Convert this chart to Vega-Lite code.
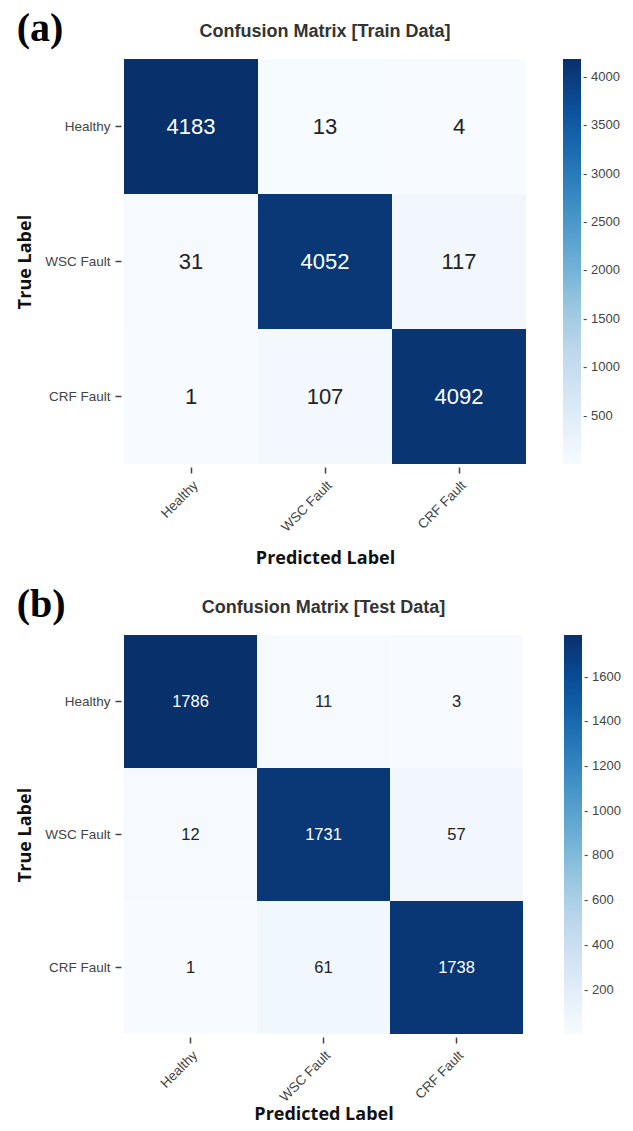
{
  "$schema": "https://vega.github.io/schema/vega-lite/v6.json",
  "background": "white",
  "padding": {"left": 16, "top": 9, "right": 5, "bottom": 5},
  "spacing": 17,
  "resolve": {"scale": {"color": "independent"}, "legend": {"color": "independent"}},
  "datasets": {
    "train": [
      {"actual": "Healthy", "predicted": "Healthy", "count": 4183},
      {"actual": "Healthy", "predicted": "WSC Fault", "count": 13},
      {"actual": "Healthy", "predicted": "CRF Fault", "count": 4},
      {"actual": "WSC Fault", "predicted": "Healthy", "count": 31},
      {"actual": "WSC Fault", "predicted": "WSC Fault", "count": 4052},
      {"actual": "WSC Fault", "predicted": "CRF Fault", "count": 117},
      {"actual": "CRF Fault", "predicted": "Healthy", "count": 1},
      {"actual": "CRF Fault", "predicted": "WSC Fault", "count": 107},
      {"actual": "CRF Fault", "predicted": "CRF Fault", "count": 4092}
    ],
    "test": [
      {"actual": "Healthy", "predicted": "Healthy", "count": 1786},
      {"actual": "Healthy", "predicted": "WSC Fault", "count": 11},
      {"actual": "Healthy", "predicted": "CRF Fault", "count": 3},
      {"actual": "WSC Fault", "predicted": "Healthy", "count": 12},
      {"actual": "WSC Fault", "predicted": "WSC Fault", "count": 1731},
      {"actual": "WSC Fault", "predicted": "CRF Fault", "count": 57},
      {"actual": "CRF Fault", "predicted": "Healthy", "count": 1},
      {"actual": "CRF Fault", "predicted": "WSC Fault", "count": 61},
      {"actual": "CRF Fault", "predicted": "CRF Fault", "count": 1738}
    ]
  },
  "config": {
    "view": {"stroke": null},
    "font": "Liberation Sans",
    "axis": {
      "labelFont": "Liberation Sans",
      "labelFontSize": 13.5,
      "labelColor": "#444444",
      "tickColor": "#444444",
      "tickSize": 6,
      "tickWidth": 1.5,
      "labelPadding": 5,
      "offset": 3,
      "domain": false,
      "grid": false,
      "titleFont": "Open Sans",
      "titleFontSize": 18,
      "titleFontWeight": "bold",
      "titleColor": "#111111"
    },
    "legend": {
      "labelFont": "Liberation Sans",
      "labelFontSize": 13,
      "labelColor": "#444444",
      "gradientThickness": 18,
      "gradientStrokeWidth": 0,
      "labelOverlap": false,
      "labelOffset": 5
    }
  },
  "vconcat": [
    {
      "title": {"text": "(a)", "anchor": "start", "frame": "bounds", "font": "Liberation Serif", "fontSize": 40, "fontWeight": "bold", "color": "#000000", "offset": -26},
      "vconcat": [
        {
          "width": 402,
          "height": 405,
          "data": {"name": "train"},
          "title": {"text": "Confusion Matrix [Train Data]", "font": "Liberation Sans", "fontSize": 18, "fontWeight": "bold", "color": "#333333", "offset": 18},
          "encoding": {
            "x": {"field": "predicted", "type": "nominal", "sort": ["Healthy", "WSC Fault", "CRF Fault"], "title": "Predicted Label", "axis": {"labelAngle": -45, "titlePadding": 16}},
            "y": {"field": "actual", "type": "nominal", "sort": ["Healthy", "WSC Fault", "CRF Fault"], "title": "True Label", "axis": {"titlePadding": 10}}
          },
          "layer": [
            {
              "mark": "rect",
              "encoding": {
                "color": {
                  "field": "count",
                  "type": "quantitative",
                  "scale": {"domain": [1, 4183], "range": ["#f7fbff", "#deebf7", "#c6dbef", "#9ecae1", "#6baed6", "#4292c6", "#2171b5", "#08519c", "#08306b"]},
                  "legend": {"title": null, "format": "d", "values": [500, 1000, 1500, 2000, 2500, 3000, 3500, 4000], "gradientLength": 405, "offset": 37, "labelExpr": "'-   ' + datum.label"}
                }
              }
            },
            {
              "mark": {"type": "text", "fontSize": 22, "font": "Liberation Sans"},
              "encoding": {
                "text": {"field": "count", "type": "quantitative", "format": "d"},
                "color": {"condition": {"test": "datum.count > 2000", "value": "#ffffff"}, "value": "#222222"}
              }
            }
          ]
        }
      ]
    },
    {
      "title": {"text": "(b)", "anchor": "start", "frame": "bounds", "font": "Liberation Serif", "fontSize": 40, "fontWeight": "bold", "color": "#000000", "offset": -26},
      "vconcat": [
        {
          "width": 399,
          "height": 399,
          "data": {"name": "test"},
          "title": {"text": "Confusion Matrix [Test Data]", "font": "Liberation Sans", "fontSize": 18, "fontWeight": "bold", "color": "#333333", "offset": 18},
          "encoding": {
            "x": {"field": "predicted", "type": "nominal", "sort": ["Healthy", "WSC Fault", "CRF Fault"], "title": "Predicted Label", "axis": {"labelAngle": -45, "titlePadding": 2}},
            "y": {"field": "actual", "type": "nominal", "sort": ["Healthy", "WSC Fault", "CRF Fault"], "title": "True Label", "axis": {"titlePadding": 10}}
          },
          "layer": [
            {
              "mark": "rect",
              "encoding": {
                "color": {
                  "field": "count",
                  "type": "quantitative",
                  "scale": {"domain": [1, 1786], "range": ["#f7fbff", "#deebf7", "#c6dbef", "#9ecae1", "#6baed6", "#4292c6", "#2171b5", "#08519c", "#08306b"]},
                  "legend": {"title": null, "format": "d", "values": [200, 400, 600, 800, 1000, 1200, 1400, 1600], "gradientLength": 399, "offset": 41, "labelExpr": "'-   ' + datum.label"}
                }
              }
            },
            {
              "mark": {"type": "text", "fontSize": 16.5, "font": "Liberation Sans"},
              "encoding": {
                "text": {"field": "count", "type": "quantitative", "format": "d"},
                "color": {"condition": {"test": "datum.count > 900", "value": "#ffffff"}, "value": "#222222"}
              }
            }
          ]
        }
      ]
    }
  ]
}
